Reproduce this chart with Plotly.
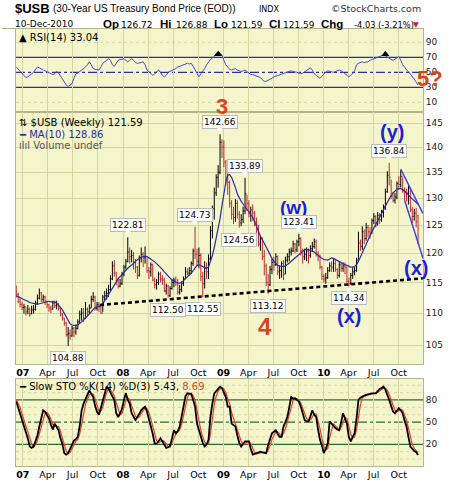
import numpy as np
import pandas as pd
import plotly.graph_objects as go

# ---------------- data (weekly, Friday-dated) ----------------
WEEKS = pd.date_range('2006-12-08', '2010-12-10', freq='W-FRI')

CLOSE = [113.0, 111.9, 111.4, 110.9, 111.0, 110.2, 110.6, 109.9, 110.5, 110.6,
         111.6, 112.4, 113.3, 112.2, 112.6, 111.9, 111.3, 110.8, 110.6, 111.6,
         111.2, 111.4, 110.8, 109.8, 109.2, 108.4, 106.6, 106.8, 106.4, 107.6,
         107.0, 107.6, 108.6, 109.8, 110.0, 109.2, 110.6, 110.2, 110.8, 112.2,
         112.6, 110.8, 111.4, 111.0, 110.0, 112.6, 112.8, 113.2, 113.8, 115.6,
         117.8, 116.6, 115.4, 114.4, 114.8, 116.4, 117.6, 118.6, 120.2, 119.4,
         119.6, 118.4, 117.6, 116.2, 119.2, 119.8, 119.2, 119.4, 117.0, 116.8,
         118.0, 115.4, 114.6, 115.0, 116.4, 115.6, 115.4, 113.6, 114.4, 112.8,
         114.0, 115.0, 115.4, 115.0, 113.4, 113.8, 114.8, 115.6, 116.8, 116.6,
         117.0, 118.2, 120.4, 119.8, 118.6, 119.6, 116.0, 114.8, 117.4, 116.8,
         119.0, 124.0, 128.0, 131.0, 134.0, 135.0, 141.0, 140.0, 137.0, 134.0,
         133.0, 129.0, 127.0, 126.4, 129.0, 127.0, 125.4, 126.0, 127.6, 130.8,
         129.0, 127.4, 127.8, 127.2, 125.6, 125.0, 121.6, 122.6, 119.4, 117.8,
         115.0, 114.6, 117.2, 118.4, 118.0, 119.4, 116.8, 117.0, 118.2, 116.4,
         118.8, 119.4, 120.2, 120.4, 121.6, 120.6, 122.0, 122.6, 120.4, 119.4,
         119.8, 120.4, 119.6, 120.8, 121.2, 122.0, 119.8, 119.4, 117.6, 116.0,
         115.6, 115.8, 117.0, 117.8, 117.6, 118.2, 117.2, 116.2, 118.0, 117.4,
         117.8, 117.6, 115.2, 114.8, 116.2, 116.8, 117.0, 118.8, 121.8, 121.2,
         123.8, 122.6, 124.6, 123.8, 123.6, 125.8, 126.6, 125.0, 126.8, 126.0,
         127.4, 128.4, 131.2, 134.4, 134.0, 130.4, 129.6, 130.2, 132.8, 132.6,
         134.2, 131.6, 131.2, 131.0, 131.8, 127.8, 126.6, 127.2, 125.62, 121.59]

HIGH = [114.5, 113.3, 112.4, 111.8, 111.5, 111.0, 111.3, 110.9, 111.2, 111.3,
        112.0, 113.0, 114.0, 113.4, 113.0, 112.8, 112.0, 111.5, 111.2, 112.0,
        112.0, 112.0, 111.6, 110.8, 110.0, 109.2, 108.6, 107.8, 107.4, 108.0,
        107.8, 108.2, 109.0, 110.4, 110.8, 110.8, 111.8, 110.9, 111.4, 112.8,
        113.4, 112.8, 111.8, 111.8, 111.2, 112.9, 113.6, 114.0, 114.6, 116.2,
        118.6, 118.8, 116.8, 115.8, 115.6, 116.8, 118.0, 119.0, 122.81, 121.0,
        120.6, 120.2, 119.0, 117.8, 119.6, 121.0, 120.2, 121.2, 119.2, 117.6,
        118.4, 118.2, 115.8, 115.6, 116.8, 116.8, 116.2, 115.8, 114.8, 114.6,
        114.4, 115.6, 115.8, 116.0, 115.6, 114.6, 115.2, 116.0, 117.6, 117.4,
        117.6, 118.6, 120.8, 124.73, 120.8, 121.0, 120.0, 116.8, 118.6, 118.4,
        119.8, 124.8, 128.6, 132.0, 134.6, 136.4, 142.66, 141.6, 141.4, 137.4,
        134.8, 133.4, 129.6, 128.4, 129.8, 129.6, 127.6, 127.0, 128.4, 133.89,
        130.6, 129.6, 128.4, 128.8, 127.6, 126.4, 125.0, 123.0, 122.8, 120.6,
        118.2, 116.4, 117.8, 119.0, 119.4, 120.0, 119.6, 117.8, 118.6, 118.8,
        119.4, 120.0, 120.8, 121.0, 122.2, 121.8, 122.4, 123.41, 122.8, 120.8,
        120.8, 121.0, 120.8, 121.4, 122.0, 122.6, 122.4, 120.4, 119.8, 117.8,
        116.4, 116.6, 117.6, 118.4, 118.6, 119.0, 118.8, 117.4, 118.6, 118.4,
        118.4, 118.4, 117.6, 115.8, 116.6, 117.6, 117.6, 119.2, 123.8, 122.4,
        124.8, 124.2, 125.4, 125.0, 124.6, 126.2, 127.2, 126.8, 127.4, 127.2,
        127.8, 128.8, 131.8, 135.2, 136.84, 133.6, 131.2, 131.0, 133.2, 134.2,
        135.4, 134.0, 132.0, 131.8, 132.4, 131.6, 128.4, 128.0, 128.2, 126.88]

LOW = [112.5, 111.6, 110.9, 110.5, 109.9, 109.6, 109.8, 109.4, 109.8, 109.9,
       110.4, 111.4, 112.2, 111.8, 111.8, 111.3, 110.8, 110.2, 110.0, 110.6,
       110.8, 110.6, 110.4, 109.5, 108.8, 108.0, 106.3, 104.88, 105.8, 106.3,
       106.2, 106.6, 107.4, 108.4, 108.8, 108.6, 109.4, 109.6, 109.9, 110.8,
       111.8, 110.4, 110.4, 110.2, 109.9, 110.2, 112.0, 112.2, 112.6, 113.6,
       115.4, 116.0, 114.6, 114.0, 114.2, 114.6, 116.0, 117.2, 118.4, 118.2,
       118.4, 117.2, 116.6, 115.6, 116.0, 118.4, 117.6, 118.2, 116.6, 115.6,
       116.0, 115.2, 114.0, 113.8, 114.6, 115.0, 114.6, 113.4, 113.0, 112.5,
       112.6, 113.8, 114.2, 114.4, 113.0, 113.0, 113.4, 114.4, 115.6, 116.2,
       116.2, 116.4, 117.8, 119.0, 117.8, 117.4, 115.2, 112.55, 114.0, 115.6,
       115.6, 118.6, 122.6, 126.0, 130.4, 132.0, 134.6, 137.8, 136.0, 132.4,
       130.6, 128.2, 126.0, 125.2, 125.6, 126.2, 124.56, 124.8, 125.4, 127.0,
       127.6, 126.4, 125.6, 125.8, 124.8, 123.6, 121.2, 120.4, 118.8, 116.2,
       114.4, 113.12, 114.4, 116.4, 117.0, 117.8, 116.2, 115.6, 115.8, 115.4,
       116.4, 118.4, 118.6, 119.6, 120.2, 120.0, 120.2, 121.2, 119.6, 118.2,
       118.8, 118.6, 118.2, 119.2, 120.2, 120.8, 119.4, 118.6, 117.2, 115.4,
       115.0, 114.8, 115.6, 116.8, 116.8, 116.8, 116.8, 115.6, 115.8, 116.8,
       116.8, 116.4, 115.0, 114.34, 114.6, 115.6, 116.2, 116.8, 118.6, 120.4,
       120.6, 121.6, 122.2, 122.8, 122.6, 123.4, 125.2, 124.6, 125.0, 125.2,
       125.6, 126.4, 127.8, 131.0, 132.4, 129.8, 129.2, 129.0, 129.8, 131.6,
       132.0, 131.0, 129.6, 129.4, 128.8, 127.4, 125.4, 125.8, 124.6, 121.59]

FIRST_OPEN = 113.6
LAST_OPEN = 126.72

MA10 = [112.8, 112.7, 112.5, 112.3, 112.2, 112.1, 111.9, 111.7, 111.6, 111.5,
        111.4, 111.4, 111.5, 111.6, 111.7, 111.8, 111.9, 111.9, 111.8, 111.8,
        111.8, 111.6, 111.3, 110.9, 110.5, 110.0, 109.4, 108.8, 108.3, 108.1,
        108.0, 108.0, 108.1, 108.3, 108.6, 108.9, 109.2, 109.5, 109.8, 110.2,
        110.6, 110.9, 111.0, 111.1, 111.2, 111.5, 112.0, 112.6, 113.2, 113.7,
        114.2, 114.7, 115.2, 115.6, 116.0, 116.4, 116.8, 117.1, 117.4, 117.7,
        117.9, 118.2, 118.6, 118.9, 119.1, 119.3, 119.4, 119.5, 119.4, 119.2,
        119.0, 118.8, 118.5, 118.2, 117.9, 117.6, 117.2, 116.8, 116.4, 116.0,
        115.7, 115.4, 115.2, 115.0, 114.9, 114.9, 115.0, 115.3, 115.6, 115.9,
        116.2, 116.6, 117.0, 117.5, 117.9, 118.0, 117.9, 117.7, 117.5, 117.4,
        117.6, 118.5, 119.6, 121.0, 122.6, 124.3, 126.2, 128.6, 131.0, 133.0,
        134.4, 134.5, 134.0, 133.1, 132.0, 130.8, 130.0, 129.4, 128.9, 128.4,
        128.0, 127.6, 127.1, 126.4, 125.6, 124.6, 123.8, 123.0, 122.4, 121.7,
        121.0, 120.4, 119.8, 119.1, 118.6, 118.2, 117.9, 117.8, 117.7, 117.7,
        117.8, 118.0, 118.3, 118.6, 118.9, 119.2, 119.4, 119.8, 120.1, 120.4,
        120.6, 120.7, 120.6, 120.5, 120.4, 120.2, 119.9, 119.6, 119.3, 119.1,
        118.9, 118.8, 118.8, 119.0, 119.2, 119.1, 118.9, 118.7, 118.5, 118.4,
        118.2, 118.0, 117.9, 117.7, 117.6, 117.6, 117.7, 118.0, 118.6, 119.3,
        120.1, 120.9, 121.7, 122.4, 123.1, 123.8, 124.5, 125.2, 125.8, 126.5,
        127.2, 127.9, 128.5, 129.2, 129.9, 130.5, 131.0, 131.4, 131.7, 131.8,
        131.8, 131.6, 131.3, 131.0, 130.6, 130.2, 129.9, 129.5, 129.2, 128.86]

RSI14 = [57, 54, 51, 48, 45, 43, 44, 46, 48, 50,
         54, 57, 56, 54, 53, 52, 51, 49, 48, 47,
         48, 51, 49, 45, 41, 37, 33, 31, 33, 35,
         42, 48, 49, 51, 52, 55, 57, 60, 64, 60,
         55, 54, 53, 53, 57, 62, 64, 66, 68, 66,
         60, 58, 62, 66, 67, 68, 68, 66, 64, 66,
         68, 66, 63, 62, 62, 63, 64, 60, 53, 51,
         48, 46, 48, 51, 53, 50, 46, 44, 46, 50,
         51, 52, 53, 55, 57, 58, 59, 60, 61, 62,
         61, 62, 58, 53, 47, 44, 48, 51, 55, 60,
         64, 67, 69, 71, 75, 77, 76, 73, 66, 60,
         57, 54, 53, 54, 55, 53, 52, 51, 52, 53,
         51, 49, 47, 47, 46, 45, 44, 43, 40, 38,
         38, 39, 40, 42, 44, 45, 46, 47, 47, 48,
         49, 50, 51, 52, 51, 51, 50, 49, 48, 49,
         51, 53, 55, 56, 53, 48, 46, 44, 42, 45,
         48, 50, 52, 51, 50, 50, 51, 52, 53, 52,
         50, 48, 45, 44, 46, 48, 52, 60, 62, 63,
         64, 63, 63, 64, 66, 67, 68, 68, 70, 71,
         71, 73, 72, 70, 68, 67, 66, 68, 70, 71,
         66, 60, 57, 53, 51, 48, 45, 41, 37, 33.04]

STO_K = [78, 70, 62, 52, 44, 36, 28, 17, 15, 17,
         25, 32, 44, 56, 66, 64, 60, 55, 47, 40,
         48, 44, 39, 28, 20, 8, 6, 8, 14, 21,
         25, 27, 30, 45, 66, 75, 80, 87, 93, 88,
         84, 72, 64, 60, 70, 80, 92, 98, 95, 90,
         86, 80, 62, 57, 62, 68, 80, 89, 80, 75,
         62, 58, 53, 57, 62, 66, 69, 71, 64, 55,
         44, 34, 21, 21, 24, 28, 24, 20, 15, 16,
         18, 28, 39, 35, 38, 44, 58, 75, 85, 89,
         89, 88, 80, 71, 48, 38, 30, 22, 17, 20,
         26, 57, 75, 89, 92, 95, 98, 96, 90, 84,
         71, 71, 48, 46, 44, 32, 22, 17, 20, 24,
         24, 24, 14, 6, 7, 8, 9, 10, 9, 8,
         8, 19, 28, 35, 37, 39, 34, 30, 30, 44,
         50, 57, 70, 84, 82, 82, 80, 78, 71, 62,
         53, 51, 51, 58, 66, 60, 57, 40, 26, 18,
         8, 14, 21, 51, 48, 44, 42, 40, 39, 50,
         62, 55, 48, 30, 24, 30, 35, 55, 80, 83,
         85, 86, 87, 88, 89, 89, 89, 89, 92, 95,
         96, 98, 94, 88, 80, 72, 64, 62, 66, 69,
         66, 62, 52, 44, 30, 17, 14, 11, 9.6, 5.43]

STO_D = [80, 75, 70, 61, 53, 44, 36, 27, 20, 16,
         19, 25, 34, 44, 55, 62, 63, 60, 54, 47,
         45, 44, 44, 37, 29, 19, 11, 7, 9, 14,
         20, 24, 27, 34, 47, 62, 74, 81, 87, 89,
         88, 81, 73, 65, 65, 70, 81, 90, 95, 94,
         90, 85, 76, 66, 60, 62, 70, 79, 83, 81,
         72, 65, 58, 56, 57, 62, 66, 69, 68, 63,
         54, 44, 33, 25, 22, 24, 25, 24, 20, 17,
         16, 21, 28, 34, 37, 39, 47, 59, 73, 83,
         88, 89, 86, 80, 66, 52, 39, 30, 23, 20,
         21, 34, 53, 74, 85, 92, 95, 96, 95, 90,
         82, 75, 63, 55, 46, 41, 33, 24, 20, 20,
         23, 24, 21, 15, 9, 7, 8, 9, 9, 9,
         8, 12, 18, 27, 33, 37, 37, 34, 31, 35,
         41, 50, 59, 70, 79, 83, 81, 80, 76, 70,
         62, 55, 52, 53, 58, 61, 61, 52, 41, 28,
         17, 13, 14, 29, 40, 48, 45, 42, 40, 43,
         50, 56, 55, 44, 34, 28, 30, 40, 57, 73,
         83, 85, 86, 87, 88, 89, 89, 89, 90, 92,
         94, 96, 96, 93, 87, 80, 72, 66, 64, 66,
         67, 66, 60, 53, 42, 30, 20, 14, 11, 8.69]

PEAK_IDX = [58, 93, 106, 119, 147, 194]
TROUGH_IDX = [27, 79, 97, 116, 131, 173]
RSI_SIGNAL_IDX = [105, 192]

SUPPORT_LINE_DATES = ['2007-10-09', '2010-12-28']
SUPPORT_LINE_PRICES = [111.3, 115.7]
WEDGE_UPPER_DATES = ['2010-10-08', '2010-12-28']
WEDGE_UPPER_PRICES = [135.6, 127.1]
WEDGE_LOWER_DATES = ['2010-10-22', '2010-12-28']
WEDGE_LOWER_PRICES = [129.6, 119.1]

PRICE_TICKS = [105, 110, 115, 120, 125, 130, 135, 140, 145]
RSI_TICKS = [10, 30, 50, 70, 90]
STO_TICKS = [20, 50, 80]
QUARTERS = ['2007-01-01', '2007-04-01', '2007-07-01', '2007-10-01',
            '2008-01-01', '2008-04-01', '2008-07-01', '2008-10-01',
            '2009-01-01', '2009-04-01', '2009-07-01', '2009-10-01',
            '2010-01-01', '2010-04-01', '2010-07-01', '2010-10-01']
QUARTER_TEXT = ['<b>07</b>', 'Apr', 'Jul', 'Oct', '<b>08</b>', 'Apr', 'Jul', 'Oct',
                '<b>09</b>', 'Apr', 'Jul', 'Oct', '<b>10</b>', 'Apr', 'Jul', 'Oct']

# header quote fields: (label, value)
QUOTE = [('Op', '126.72'), ('Hi', '126.88'), ('Lo', '121.59'), ('Cl', '121.59'), ('Chg', '-4.03 (-3.21%)')]

# ---------------- geometry ----------------
W, H = 460, 482
PL, PR = 16, 423


def px(x):
    return (x - PL) / (PR - PL)


def py(y):
    return 1 - y / H


BG = '#F5F5CB'
GRID = '#D6D6A4'
BORDER = '#B4B48C'
RED = '#C0282D'
BLUE_TXT = '#1E1ED8'
WAVE_RED = '#D8461E'
FONT = 'DejaVu Sans, Verdana, sans-serif'
AFONT = 'Liberation Sans, Arial, sans-serif'

OPEN = [FIRST_OPEN] + CLOSE[:-1]
OPEN[-1] = LAST_OPEN

fig = go.Figure()

# RSI panel
fig.add_trace(go.Scatter(x=WEEKS, y=RSI14, mode='lines', line=dict(color='#4646D6', width=1),
                         xaxis='x', yaxis='y', hoverinfo='skip'))
fig.add_trace(go.Scatter(x=[WEEKS[i] for i in RSI_SIGNAL_IDX], y=[74, 74], mode='markers',
                         marker=dict(symbol='triangle-up', size=7, color='black'),
                         xaxis='x', yaxis='y', hoverinfo='skip'))

# Price panel
fig.add_trace(go.Ohlc(x=WEEKS, open=OPEN, high=HIGH, low=LOW, close=CLOSE,
                      increasing=dict(line=dict(color='black', width=1)),
                      decreasing=dict(line=dict(color=RED, width=1)),
                      tickwidth=0.45, xaxis='x2', yaxis='y2', hoverinfo='skip'))
fig.add_trace(go.Scatter(x=WEEKS, y=MA10, mode='lines', line=dict(color='#2A2AA6', width=1.2),
                         xaxis='x2', yaxis='y2', hoverinfo='skip'))
fig.add_trace(go.Scatter(x=SUPPORT_LINE_DATES, y=SUPPORT_LINE_PRICES, mode='lines',
                         line=dict(color='black', width=2.6, dash='4px,3px'),
                         xaxis='x2', yaxis='y2', hoverinfo='skip'))
fig.add_trace(go.Scatter(x=WEDGE_UPPER_DATES, y=WEDGE_UPPER_PRICES, mode='lines',
                         line=dict(color='#3B3BE0', width=1.4), xaxis='x2', yaxis='y2', hoverinfo='skip'))
fig.add_trace(go.Scatter(x=WEDGE_LOWER_DATES, y=WEDGE_LOWER_PRICES, mode='lines',
                         line=dict(color='#3B3BE0', width=1.4), xaxis='x2', yaxis='y2', hoverinfo='skip'))

# STO panel
fig.add_trace(go.Scatter(x=WEEKS, y=STO_D, mode='lines', line=dict(color='#E2402A', width=1.2),
                         xaxis='x3', yaxis='y3', hoverinfo='skip'))
fig.add_trace(go.Scatter(x=WEEKS, y=STO_K, mode='lines', line=dict(color='black', width=1.8),
                         xaxis='x3', yaxis='y3', hoverinfo='skip'))

XR = ['2006-12-07', '2010-12-28']
xcommon = dict(range=XR, type='date', tickmode='array', tickvals=QUARTERS, ticktext=QUARTER_TEXT,
               showgrid=True, gridcolor=GRID, gridwidth=1, showline=True, mirror=True,
               linecolor=BORDER, linewidth=1, ticks='', zeroline=False,
               rangeslider=dict(visible=False),
               tickfont=dict(family=FONT, size=9.5, color='black'))
ycommon = dict(side='right', showline=True, mirror=True, linecolor=BORDER, linewidth=1,
               ticks='', zeroline=False, tickfont=dict(family=FONT, size=9, color='#222'),
               gridcolor=GRID, gridwidth=1)

fig.update_layout(
    width=W, height=H, margin=dict(l=PL, r=W - PR, t=0, b=0),
    paper_bgcolor='white', plot_bgcolor=BG, showlegend=False,
    xaxis=dict(**xcommon, anchor='y', showticklabels=False),
    xaxis2=dict(**xcommon, anchor='y2', showticklabels=True),
    xaxis3=dict(**xcommon, anchor='y3', showticklabels=True),
    yaxis=dict(**ycommon, domain=[py(112), py(28.5)], range=[-2.9, 108.4],
               tickvals=RSI_TICKS, showgrid=False),
    yaxis2=dict(**ycommon, domain=[py(364), py(112)], type='log',
                range=[np.log10(102.15), np.log10(147.34)], tickvals=PRICE_TICKS, showgrid=True),
    yaxis3=dict(**ycommon, domain=[py(466), py(379)], range=[-9.4, 108.4],
                tickvals=STO_TICKS, showgrid=False),
)

shapes = []
# RSI reference lines
for lvl, dash in [(70, 'solid'), (30, 'solid'), (50, 'dashdot')]:
    shapes.append(dict(type='line', xref='x domain', yref='y', x0=0, x1=1, y0=lvl, y1=lvl,
                       line=dict(color='#2E2EA0', width=1.3, dash=dash), layer='below'))
for lvl in [10, 90]:
    shapes.append(dict(type='line', xref='x domain', yref='y', x0=0, x1=1, y0=lvl, y1=lvl,
                       line=dict(color=GRID, width=1, dash='dot'), layer='below'))
# STO reference lines
for lvl, dash in [(80, 'solid'), (20, 'solid'), (50, 'dashdot')]:
    shapes.append(dict(type='line', xref='x3 domain', yref='y3', x0=0, x1=1, y0=lvl, y1=lvl,
                       line=dict(color='#2F6A2F', width=1.3, dash=dash), layer='below'))
for lvl in [0, 10, 30, 40, 60, 70, 90, 100]:
    shapes.append(dict(type='line', xref='x3 domain', yref='y3', x0=0, x1=1, y0=lvl, y1=lvl,
                       line=dict(color=GRID, width=1, dash='dot'), layer='below'))
# header separator line
shapes.append(dict(type='line', xref='paper', yref='paper', x0=px(2), x1=px(423), y0=py(28.5), y1=py(28.5),
                   line=dict(color=BORDER, width=1)))
fig.update_layout(shapes=shapes)

ann = []


def text(x, y, s, size=10, color='black', family=FONT, xanchor='left'):
    ann.append(dict(x=px(x), y=py(y), xref='paper', yref='paper', text=s, showarrow=False,
                    xanchor=xanchor, yanchor='middle', font=dict(family=family, size=size, color=color)))


# header line 1
text(13, 8, '<b>$USB</b>', 13, family=AFONT)
text(51, 8.5, '(30-Year US Treasury Bond Price (EOD))', 10, family=AFONT)
text(257, 9, 'INDX', 8)
text(423, 8.5, '©StockCharts.com', 9.5, color='#333', xanchor='right')
# header line 2
text(13, 24, '10-Dec-2010', 9)
LABEL_X = [101, 158, 212, 267, 319]
VALUE_X = [119, 174, 229, 281, 352]
VALUE_SIZE = [9, 9, 9, 9, 8.3]
for (lab, val), lx, vx, vs in zip(QUOTE, LABEL_X, VALUE_X, VALUE_SIZE):
    text(lx, 24, '<b>%s</b>' % lab, 11.5, family=AFONT)
    text(vx, 24.5, val, vs)
text(421, 24, '▼', 7.5, color=RED, xanchor='right')

# panel legends
text(17, 37.5, '▲ RSI(14) 33.04', 10)
text(17, 123, '⇅ $USB (Weekly) 121.59', 10)
text(17, 134.5, '<span style="color:#2A2AA6">━</span> MA(10) 128.86', 10, color='#2A2AA6')
text(17, 145, 'ılıl Volume undef', 10, color='#555')
text(17, 386.5, '━ Slow STO %K(14) %D(3) 5.43, <span style="color:#E2402A">8.69</span>', 10)

# wave labels
text(222, 106, '<b>3</b>', 22, WAVE_RED, AFONT, 'center')
text(265, 326, '<b>4</b>', 24, WAVE_RED, AFONT, 'center')
text(430, 79, '<b>5?</b>', 22, WAVE_RED, AFONT, 'center')
text(293, 207, '<b>(w)</b>', 19, BLUE_TXT, AFONT, 'center')
text(392, 132, '<b>(y)</b>', 20, BLUE_TXT, AFONT, 'center')
text(416, 268, '<b>(x)</b>', 20, BLUE_TXT, AFONT, 'center')
text(349, 316, '<b>(x)</b>', 20, BLUE_TXT, AFONT, 'center')

# price labels with small pointers
for i in PEAK_IDX:
    ann.append(dict(x=WEEKS[i], y=np.log10(HIGH[i]), xref='x2', yref='y2', text='%.2f' % HIGH[i],
                    showarrow=False, yshift=12, bgcolor='white', bordercolor='#BBBBBB', borderwidth=1,
                    borderpad=1, font=dict(family=FONT, size=9, color='black')))
    ann.append(dict(x=WEEKS[i], y=np.log10(HIGH[i]), xref='x2', yref='y2', text='▼',
                    showarrow=False, yshift=4, font=dict(family=FONT, size=7, color='white')))
for i in TROUGH_IDX:
    ann.append(dict(x=WEEKS[i], y=np.log10(LOW[i]), xref='x2', yref='y2', text='%.2f' % LOW[i],
                    showarrow=False, yshift=-12, bgcolor='white', bordercolor='#BBBBBB', borderwidth=1,
                    borderpad=1, font=dict(family=FONT, size=9, color='black')))
    ann.append(dict(x=WEEKS[i], y=np.log10(LOW[i]), xref='x2', yref='y2', text='▲',
                    showarrow=False, yshift=-4, font=dict(family=FONT, size=7, color='white')))

fig.update_layout(annotations=ann)

fig.write_html('out.html', config={'displayModeBar': False},
               post_script="document.body.style.margin='0px';document.body.style.overflow='hidden';")
